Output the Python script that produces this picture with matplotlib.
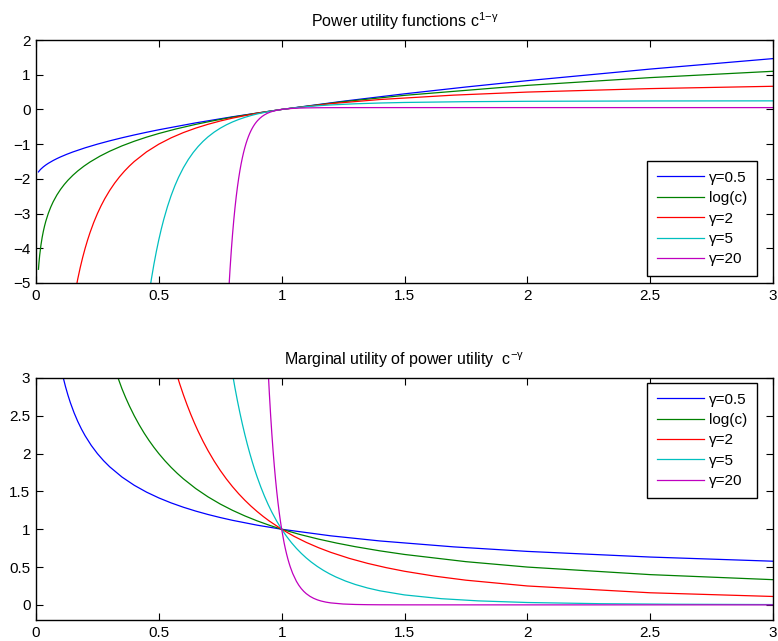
import numpy as np
import matplotlib
matplotlib.use("Agg")
import matplotlib.pyplot as plt

plt.rcParams['font.family'] = ['Liberation Sans', 'DejaVu Sans']
plt.rcParams['mathtext.fontset'] = 'custom'
plt.rcParams['mathtext.rm'] = 'Liberation Sans'
plt.rcParams['mathtext.it'] = 'Liberation Sans'
plt.rcParams['mathtext.sf'] = 'Liberation Sans'

labels = ['γ=0.5', 'log(c)', 'γ=2', 'γ=5', 'γ=20']
colors = ['#0000ff', '#008000', '#ff0000', '#00bfbf', '#bf00bf']

# ---------------- Top panel: utility values ----------------
c_top_g05 = [0.01, 0.015, 0.02, 0.03, 0.04, 0.05, 0.07, 0.085, 0.1, 0.125, 0.15, 0.2, 0.25,
             0.3, 0.35, 0.4, 0.45, 0.5, 0.65, 0.8, 1.0, 1.25, 1.5, 1.75, 2.0, 2.5, 3.0]
u_top_g05 = [-1.8, -1.7551, -1.7172, -1.6536, -1.6, -1.5528, -1.4708, -1.4169, -1.3675,
             -1.2929, -1.2254, -1.1056, -1.0, -0.9046, -0.8168, -0.7351, -0.6584, -0.5858,
             -0.3875, -0.2111, 0.0, 0.2361, 0.4495, 0.6458, 0.8284, 1.1623, 1.4641]

c_top_log = [0.01, 0.012, 0.015, 0.02, 0.025, 0.03, 0.035, 0.04, 0.05, 0.06, 0.07, 0.085,
             0.1, 0.115, 0.13, 0.15, 0.17, 0.195, 0.22, 0.26, 0.3, 0.35, 0.4, 0.45, 0.5,
             0.57, 0.65, 0.72, 0.8, 0.9, 1.0, 1.25, 1.5, 2.0, 2.5, 3.0]
u_top_log = [-4.6052, -4.4229, -4.1997, -3.9120, -3.6889, -3.5066, -3.3524, -3.2189,
             -2.9957, -2.8134, -2.6593, -2.4651, -2.3026, -2.1628, -2.0402, -1.8971,
             -1.7720, -1.6348, -1.5141, -1.3471, -1.2040, -1.0498, -0.9163, -0.7985,
             -0.6931, -0.5621, -0.4308, -0.3285, -0.2231, -0.1054, 0.0, 0.2231, 0.4055,
             0.6931, 0.9163, 1.0986]

c_top_g2 = [0.16, 0.17, 0.18, 0.19, 0.2, 0.21, 0.22, 0.235, 0.25, 0.265, 0.28, 0.3, 0.32,
            0.34, 0.36, 0.38, 0.4, 0.45, 0.5, 0.55, 0.6, 0.65, 0.7, 0.75, 0.8, 0.9, 1.0,
            1.2, 1.4, 1.7, 2.0, 2.5, 3.0]
u_top_g2 = [-5.25, -4.8824, -4.5556, -4.2632, -4.0, -3.7619, -3.5455, -3.2553, -3.0,
            -2.7736, -2.5714, -2.3333, -2.125, -1.9412, -1.7778, -1.6316, -1.5, -1.2222,
            -1.0, -0.8182, -0.6667, -0.5385, -0.4286, -0.3333, -0.25, -0.1111, 0.0, 0.1667,
            0.2857, 0.4118, 0.5, 0.6, 0.6667]

c_top_g5 = [0.46, 0.47, 0.48, 0.49, 0.5, 0.51, 0.52, 0.535, 0.55, 0.565, 0.58, 0.6, 0.62,
            0.64, 0.66, 0.68, 0.7, 0.725, 0.75, 0.775, 0.8, 0.825, 0.85, 0.875, 0.9, 0.95,
            1.0, 1.05, 1.1, 1.15, 1.2, 1.3, 1.4, 1.5, 1.75, 2.0, 2.5, 3.0]
u_top_g5 = [-5.333, -4.873, -4.4595, -4.0867, -3.75, -3.4454, -3.169, -2.8016, -2.482,
            -2.2033, -1.959, -1.679, -1.4419, -1.2401, -1.0675, -0.9192, -0.7912, -0.6549,
            -0.5401, -0.4430, -0.3604, -0.2897, -0.2289, -0.1765, -0.1310, -0.0569, 0.0,
            0.0443, 0.0792, 0.1071, 0.1294, 0.1625, 0.1849, 0.2006, 0.2233, 0.2344,
            0.2436, 0.2469]

c_top_g20 = [0.78, 0.785, 0.79, 0.795, 0.8, 0.805, 0.81, 0.815, 0.82, 0.825, 0.83, 0.835,
             0.84, 0.845, 0.85, 0.855, 0.86, 0.865, 0.87, 0.875, 0.88, 0.885, 0.89, 0.895,
             0.9, 0.91, 0.92, 0.93, 0.94, 0.95, 0.96, 0.97, 0.98, 0.99, 1.0, 1.01, 1.02,
             1.035, 1.05, 1.075, 1.1, 1.15, 1.2, 1.3, 1.4, 2.0, 3.0]
u_top_g20 = [-5.856, -5.180, -4.585, -4.061, -3.599, -3.192, -2.832, -2.513, -2.232,
             -1.983, -1.762, -1.566, -1.393, -1.238, -1.102, -0.9798, -0.8716, -0.7753,
             -0.6895, -0.6128, -0.5445, -0.4836, -0.4291, -0.3805, -0.3369, -0.2632,
             -0.2039, -0.1563, -0.1179, -0.0868, -0.0617, -0.0412, -0.0246, -0.0111, 0.0,
             0.0091, 0.0165, 0.0253, 0.0318, 0.0393, 0.0440, 0.0489, 0.0510, 0.0523,
             0.0525, 0.0526, 0.0526]

# ---------------- Bottom panel: marginal utility ----------------
c_bot_g05 = [0.1, 0.11, 0.12, 0.13, 0.14, 0.155, 0.17, 0.185, 0.2, 0.225, 0.25, 0.275,
             0.3, 0.35, 0.4, 0.45, 0.5, 0.55, 0.6, 0.65, 0.7, 0.75, 0.8, 0.9, 1.0, 1.2,
             1.4, 1.7, 2.0, 2.5, 3.0]
m_bot_g05 = [3.1623, 3.0151, 2.8868, 2.7735, 2.6726, 2.5400, 2.4254, 2.3250, 2.2361,
             2.1082, 2.0, 1.9069, 1.8257, 1.6903, 1.5811, 1.4907, 1.4142, 1.3484, 1.2910,
             1.2403, 1.1952, 1.1547, 1.1180, 1.0541, 1.0, 0.9129, 0.8452, 0.7670, 0.7071,
             0.6325, 0.5774]

c_bot_log = [0.32, 0.35, 0.365, 0.38, 0.4, 0.42, 0.44, 0.46, 0.48, 0.5, 0.525, 0.55,
             0.575, 0.6, 0.65, 0.7, 0.75, 0.8, 0.85, 0.9, 0.95, 1.0, 1.075, 1.15, 1.225,
             1.3, 1.4, 1.5, 1.75, 2.0, 2.5, 3.0]
m_bot_log = [3.125, 2.8571, 2.7397, 2.6316, 2.5, 2.3810, 2.2727, 2.1739, 2.0833, 2.0,
             1.9048, 1.8182, 1.7391, 1.6667, 1.5385, 1.4286, 1.3333, 1.25, 1.1765, 1.1111,
             1.0526, 1.0, 0.9302, 0.8696, 0.8163, 0.7692, 0.7143, 0.6667, 0.5714, 0.5,
             0.4, 0.3333]

c_bot_g2 = [0.57, 0.585, 0.6, 0.615, 0.63, 0.645, 0.66, 0.68, 0.7, 0.725, 0.75, 0.775,
            0.8, 0.825, 0.85, 0.875, 0.9, 0.925, 0.95, 1.0, 1.05, 1.1, 1.15, 1.2, 1.275,
            1.35, 1.425, 1.5, 1.625, 1.75, 2.0, 2.5, 3.0]
m_bot_g2 = [3.0779, 2.9221, 2.7778, 2.6439, 2.5195, 2.4037, 2.2957, 2.1626, 2.0408,
            1.9025, 1.7778, 1.6649, 1.5625, 1.4692, 1.3841, 1.3061, 1.2346, 1.1687,
            1.1080, 1.0, 0.9070, 0.8264, 0.7561, 0.6944, 0.6151, 0.5487, 0.4925, 0.4444,
            0.3787, 0.3265, 0.25, 0.16, 0.1111]

c_bot_g5 = [0.8, 0.81, 0.82, 0.83, 0.84, 0.85, 0.86, 0.87, 0.88, 0.89, 0.9, 0.915, 0.93,
            0.945, 0.96, 0.98, 1.0, 1.02, 1.04, 1.06, 1.08, 1.1, 1.12, 1.145, 1.17, 1.195,
            1.22, 1.26, 1.3, 1.35, 1.4, 1.5, 1.65, 1.8, 2.0, 2.3, 2.6, 3.0]
m_bot_g5 = [3.0518, 2.8680, 2.6973, 2.5387, 2.3911, 2.2537, 2.1257, 2.0064, 1.8950,
            1.7908, 1.6935, 1.5592, 1.4374, 1.3269, 1.2264, 1.1063, 1.0, 0.9057, 0.8219,
            0.7473, 0.6806, 0.6209, 0.5674, 0.5082, 0.4561, 0.4103, 0.3700, 0.3149,
            0.2693, 0.2230, 0.1859, 0.1317, 0.0818, 0.0529, 0.0313, 0.0155, 0.0084,
            0.0041]

c_bot_g20 = [0.945, 0.95, 0.955, 0.96, 0.965, 0.97, 0.975, 0.98, 0.985, 0.99, 0.995, 1.0,
             1.01, 1.015, 1.02, 1.025, 1.03, 1.035, 1.045, 1.06, 1.07, 1.08, 1.09, 1.1,
             1.115, 1.13, 1.145, 1.16, 1.18, 1.2, 1.25, 1.3, 1.35, 1.4, 1.5, 1.6, 2.0, 3.0]
m_bot_g20 = [3.100, 2.7895, 2.5115, 2.2624, 2.0392, 1.8390, 1.6592, 1.4979, 1.3529,
             1.2226, 1.1054, 1.0, 0.8195, 0.7425, 0.6730, 0.6103, 0.5537, 0.5026, 0.4146,
             0.3118, 0.2584, 0.2146, 0.1784, 0.1486, 0.1134, 0.0868, 0.0667, 0.0514,
             0.0365, 0.0261, 0.0115, 0.0053, 0.0025, 0.0012, 0.0003, 0.0001, 0.0, 0.0]

x_ticks = [0, 0.5, 1, 1.5, 2, 2.5, 3]
x_ticklabels = ['0', '0.5', '1', '1.5', '2', '2.5', '3']
top_yticks = [-5, -4, -3, -2, -1, 0, 1, 2]
top_yticklabels = ['\u22125', '\u22124', '\u22123', '\u22122', '\u22121', '0', '1', '2']
bot_yticks = [0, 0.5, 1, 1.5, 2, 2.5, 3]
bot_yticklabels = ['0', '0.5', '1', '1.5', '2', '2.5', '3']

top_series = [(c_top_g05, u_top_g05), (c_top_log, u_top_log), (c_top_g2, u_top_g2),
              (c_top_g5, u_top_g5), (c_top_g20, u_top_g20)]
bot_series = [(c_bot_g05, m_bot_g05), (c_bot_log, m_bot_log), (c_bot_g2, m_bot_g2),
              (c_bot_g5, m_bot_g5), (c_bot_g20, m_bot_g20)]

W, H = 778, 641
fig = plt.figure(figsize=(W / 100, H / 100), dpi=100)
ax1 = fig.add_axes([36 / W, 1 - 283 / H, 737 / W, 243 / H])
ax2 = fig.add_axes([36 / W, 1 - 620 / H, 737 / W, 242 / H])


def style(ax):
    for s in ax.spines.values():
        s.set_linewidth(1.0)
        s.set_color('black')
    ax.tick_params(direction='in', length=5, width=0.8, top=True, right=True,
                   labelsize=11, pad=4, colors='black')
    ax.set_xticks(x_ticks)
    ax.set_xticklabels(x_ticklabels)


legend_kw = dict(borderaxespad=0, fancybox=False, framealpha=1, edgecolor='black',
                 fontsize=11, handlelength=3.1, handletextpad=0.33, labelspacing=0.42,
                 borderpad=0.62)

for (x, y), col, lab in zip(top_series, colors, labels):
    ax1.plot(x, y, color=col, lw=0.9, label=lab)
ax1.set_xlim(0, 3)
ax1.set_ylim(-5, 2)
style(ax1)
ax1.set_yticks(top_yticks)
ax1.set_yticklabels(top_yticklabels)
ax1.set_title(r'Power utility functions c$^{1\mathrm{-}\gamma}$', fontsize=11.5, pad=9)
leg1 = ax1.legend(loc='lower right', bbox_to_anchor=(0.978, 0.029), **legend_kw)
leg1.get_frame().set_linewidth(1.0)

for (x, y), col, lab in zip(bot_series, colors, labels):
    ax2.plot(x, y, color=col, lw=0.9, label=lab)
ax2.set_xlim(0, 3)
ax2.set_ylim(-0.2, 3)
style(ax2)
ax2.set_yticks(bot_yticks)
ax2.set_yticklabels(bot_yticklabels)
ax2.set_title(r'Marginal utility of power utility  c$^{\mathrm{-}\gamma}$', fontsize=11.5, pad=9)
leg2 = ax2.legend(loc='upper right', bbox_to_anchor=(0.978, 0.979), **legend_kw)
leg2.get_frame().set_linewidth(1.0)

fig.savefig('out.png', dpi=100)
